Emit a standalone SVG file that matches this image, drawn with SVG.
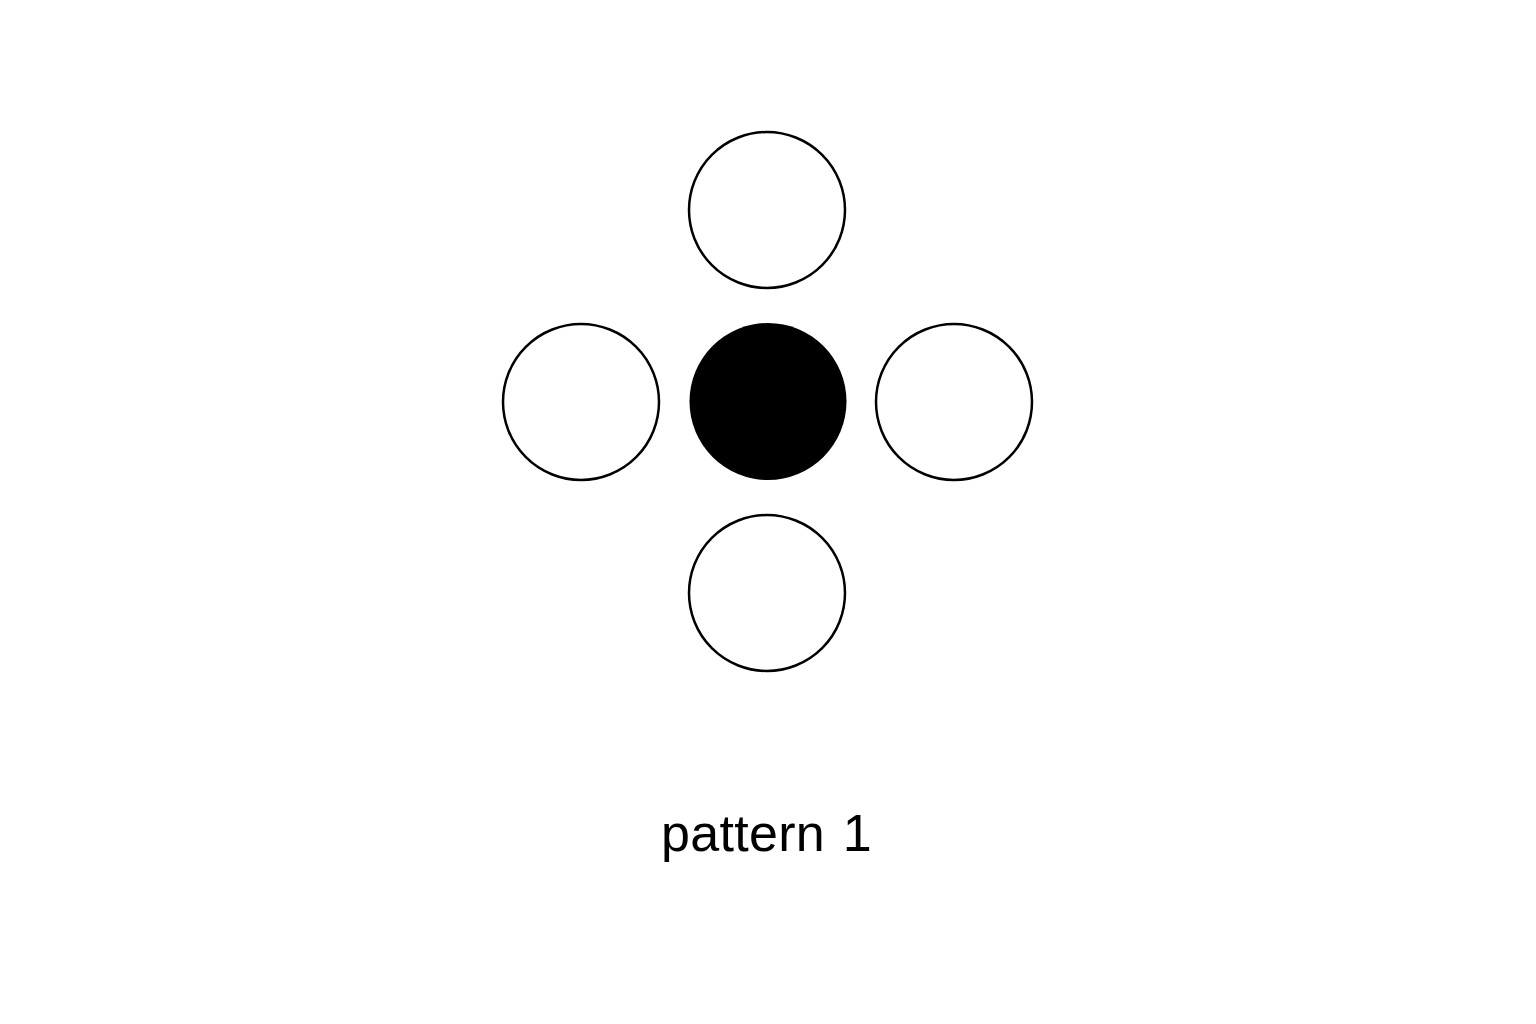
<svg xmlns="http://www.w3.org/2000/svg" width="1536" height="1024" viewBox="0 0 1536 1024">
<style>
.ring{fill:#fff;stroke:#000;stroke-width:2.5}
.dot{fill:#000;stroke:none}
.lbl{font-family:"Liberation Sans",Arial,sans-serif;font-size:52px;fill:#000;letter-spacing:0.3px}
</style>
<rect width="1536" height="1024" fill="#fff"/>
<g id="connectors"></g>
<g id="top"><circle class="ring" cx="767" cy="210" r="78"/></g>
<g id="left"><circle class="ring" cx="581" cy="402" r="78"/></g>
<g id="center"><circle class="dot" cx="768" cy="401.5" r="78.5"/></g>
<g id="right"><circle class="ring" cx="954" cy="402" r="78"/></g>
<g id="bottom"><circle class="ring" cx="767" cy="593" r="78"/></g>
<g id="caption"><text class="lbl" x="661" y="851">pattern <tspan dx="3">1</tspan></text></g>
</svg>
